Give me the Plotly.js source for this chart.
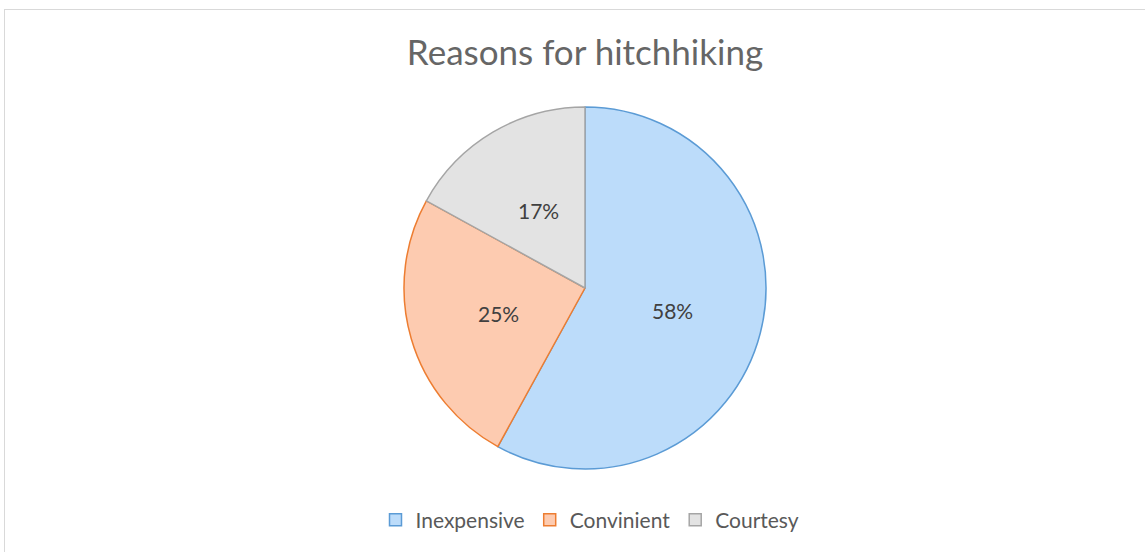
<!DOCTYPE html>
<html>
<head>
<meta charset="utf-8">
<script src="https://cdn.plot.ly/plotly-3.0.1.min.js"></script>
<style>
html,body{margin:0;padding:0;background:#fff;}
#wrap{position:relative;width:1145px;height:552px;}
#frame{position:absolute;left:4px;top:9px;width:1150px;height:560px;border:1px solid #d9d9d9;box-sizing:border-box;pointer-events:none;}
#chart{position:absolute;left:0;top:0;width:1145px;height:552px;}
</style>
</head>
<body>
<div id="wrap">
<div id="chart"></div>
<div id="frame"></div>
</div>
<script>
const categories = ["Inexpensive", "Convinient", "Courtesy"];
const values = [58, 25, 17];
const fillColors = ["#bcdcfa", "#fdcbb0", "#e3e3e3"];
const lineColors = ["#5b9bd5", "#ed7d31", "#a5a5a5"];
const chartTitle = "Reasons for hitchhiking";

const W = 1145, H = 552;
const cx = 585, cy = 288, r = 181;
const FONT = "Lato, 'Open Sans', sans-serif";

const trace = {
  type: "pie",
  labels: categories,
  values: values,
  sort: false,
  direction: "clockwise",
  rotation: 0,
  marker: {colors: fillColors, line: {color: lineColors, width: 1.5}},
  textinfo: "none",
  hoverinfo: "label+percent",
  domain: {x: [(cx - r) / W, (cx + r) / W], y: [(H - cy - r) / H, (H - cy + r) / H]}
};

// data labels placed at half radius along each slice's mid-angle (derived from values)
const total = values.reduce((a, b) => a + b, 0);
let cum = 0;
const annotations = values.map(v => {
  const frac = v / total;
  const mid = (cum + frac / 2) * 2 * Math.PI;
  cum += frac;
  const rr = 0.5 * r;
  const px = cx + rr * Math.sin(mid);
  const py = cy - rr * Math.cos(mid);
  return {
    x: px / W, y: 1 - py / H, xref: "paper", yref: "paper",
    text: Math.round(frac * 100) + "%", showarrow: false,
    xanchor: "center", yanchor: "middle",
    font: {family: FONT, size: 21, color: "#404040"}
  };
});

const layout = {
  width: W, height: H,
  margin: {l: 0, r: 0, t: 0, b: 0},
  paper_bgcolor: "#ffffff",
  title: {
    text: chartTitle,
    x: cx / W, xanchor: "center",
    y: 1 - 53 / H, yanchor: "middle",
    font: {family: FONT, size: 35, color: "#666666"}
  },
  annotations: annotations,
  showlegend: true,
  legend: {
    orientation: "h",
    x: 590 / W, xanchor: "center",
    y: 1 - 520 / H, yanchor: "middle",
    font: {family: FONT, size: 21, color: "#595959"},
    itemwidth: 30,
    traceorder: "normal"
  }
};

Plotly.newPlot("chart", [trace], layout, {displayModeBar: false, staticPlot: true});
</script>
</body>
</html>
